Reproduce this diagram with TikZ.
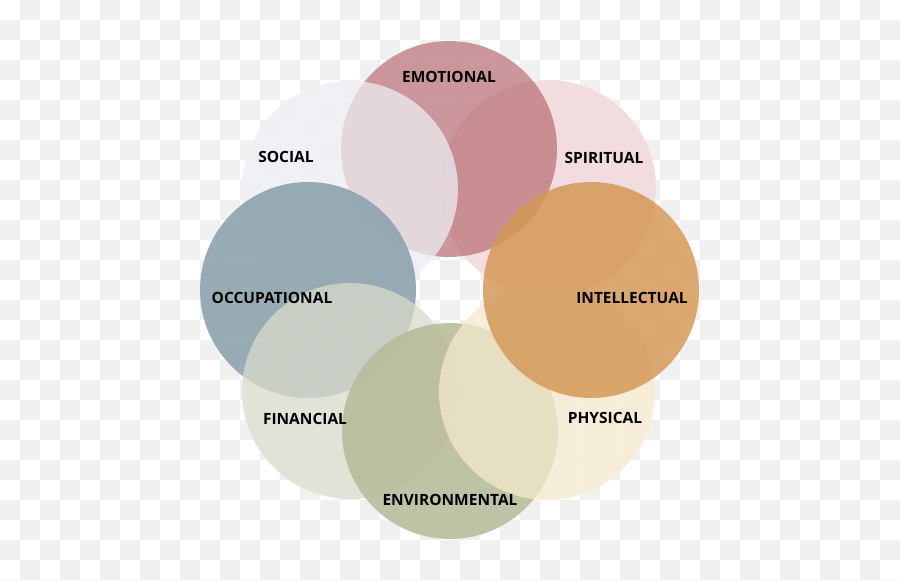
\documentclass[tikz,border=0pt]{standalone}
\usepackage{fontspec}
\setmainfont{Open Sans}
\definecolor{checkgray}{RGB}{240,240,240}
\definecolor{socialc}{RGB}{236,237,242}
\definecolor{emoc}{RGB}{181,108,114}
\definecolor{spiric}{RGB}{241,215,216}
\definecolor{intelc}{RGB}{213,153,87}
\definecolor{physc}{RGB}{244,233,204}
\definecolor{envc}{RGB}{184,189,156}
\definecolor{finc}{RGB}{218,218,204}
\definecolor{occc}{RGB}{141,163,173}
\begin{document}
\begin{tikzpicture}[x=1pt,y=1pt,
  wcircle/.style={circle,minimum size=216pt,inner sep=0pt,draw=none},
  wlabel/.style={font=\fontsize{15.5}{18}\selectfont\bfseries,text=black,inner sep=0pt}]
\useasboundingbox (0,0) rectangle (900,581);
% checkerboard background
\fill[white] (0,0) rectangle (900,581);
\begin{scope}
\clip (0,0) rectangle (900,581);
\foreach \i in {0,...,44}{
  \foreach \j in {0,...,29}{
    \pgfmathtruncatemacro\p{mod(\i+\j,2)}
    \ifnum\p=1
      \fill[checkgray] (20*\i,581-20*\j) rectangle (20*\i+20,561-20*\j);
    \fi
  }
}
\end{scope}
% white underlay so the background barely shows through
\begin{scope}[transparency group,opacity=0.85]
\foreach \p in {(548,393),(449,432),(350,392),(308,291),(350,190),(450,150),(547,189),(591,291)}
  \fill[white] \p circle[radius=108];
\end{scope}
% circles (bottom to top)
\node[wcircle,fill=spiric,fill opacity=0.85] (spiritual) at (548,393) {};
\node[wcircle,fill=emoc,fill opacity=0.7] (emotional) at (449,432) {};
\node[wcircle,fill=socialc,fill opacity=0.75] (social) at (350,392) {};
\node[wcircle,fill=occc,fill opacity=0.9] (occupational) at (308,291) {};
\node[wcircle,fill=finc,fill opacity=0.75] (financial) at (350,190) {};
\node[wcircle,fill=envc,fill opacity=0.9] (environmental) at (450,150) {};
\node[wcircle,fill=physc,fill opacity=0.75] (physical) at (547,189) {};
\node[wcircle,fill=intelc,fill opacity=0.85] (intellectual) at (591,291) {};
% labels
\node[wlabel] (lemo) at (449,504) {EMOTIONAL};
\node[wlabel] (lspi) at (604,423) {SPIRITUAL};
\node[wlabel] (lint) at (632,283) {INTELLECTUAL};
\node[wlabel] (lphy) at (605,163) {PHYSICAL};
\node[wlabel] (lenv) at (450,81) {ENVIRONMENTAL};
\node[wlabel] (lfin) at (305,162) {FINANCIAL};
\node[wlabel] (locc) at (272,283) {OCCUPATIONAL};
\node[wlabel] (lsoc) at (286,424) {SOCIAL};
\end{tikzpicture}
\end{document}
